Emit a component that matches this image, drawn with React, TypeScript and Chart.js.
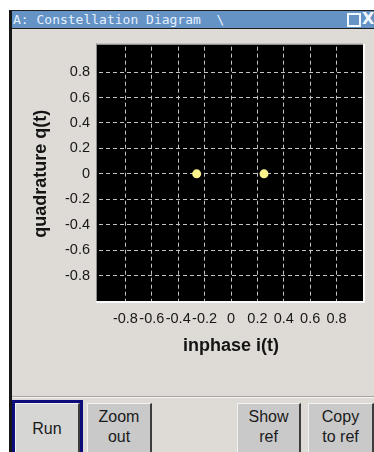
import React, { useEffect, useRef } from "react";
import { Chart, registerables } from "chart.js";

Chart.register(...registerables);

// ---- data ----
const inphaseValues = [-0.26, 0.25];
const quadratureValues = [0, 0];
const tickValues = [-0.8, -0.6, -0.4, -0.2, 0, 0.2, 0.4, 0.6, 0.8];
const axisMin = -1;
const axisMax = 1;
const xTitle = "inphase i(t)";
const yTitle = "quadrature q(t)";
const windowTitle = "A: Constellation Diagram  \\";
const runLabel = ["Run"];
const zoomLabel = ["Zoom", "out"];
const showRefLabel = ["Show", "ref"];
const copyRefLabel = ["Copy", "to ref"];

const fmt = (v: number) => {
  const r = Math.round(v * 10) / 10;
  return r === 0 ? "0" : r.toFixed(1);
};

const plotFrame = {
  id: "plotFrame",
  beforeDraw(chart: any) {
    const { ctx, chartArea: a } = chart;
    ctx.save();
    ctx.fillStyle = "#000000";
    ctx.fillRect(a.left - 2, a.top - 2, a.right - a.left + 2, a.bottom - a.top + 2);
    ctx.fillStyle = "#8c8c8c";
    ctx.fillRect(a.left - 3, a.top - 3, a.right - a.left + 4, 1);
    ctx.fillRect(a.left - 3, a.top - 3, 1, a.bottom - a.top + 4);
    ctx.fillStyle = "#fafafa";
    ctx.fillRect(a.left - 3, a.bottom, a.right - a.left + 5, 2);
    ctx.fillRect(a.right, a.top - 3, 2, a.bottom - a.top + 5);
    ctx.restore();
  },
};

const tickFont = { family: "'Liberation Sans', Arial, sans-serif", size: 14.5 };
const titleFont = { family: "'Liberation Sans', Arial, sans-serif", size: 18, weight: "bold" as const };

function ConstellationChart() {
  const ref = useRef<HTMLCanvasElement | null>(null);
  useEffect(() => {
    if (!ref.current) return;
    const points = inphaseValues.map((x, i) => ({ x, y: quadratureValues[i] }));
    const setTicks = (axis: any) => {
      axis.ticks = tickValues.map((v) => ({ value: v }));
    };
    const chart = new Chart(ref.current, {
      type: "scatter",
      data: {
        datasets: [
          {
            data: points,
            backgroundColor: "#faf38c",
            borderWidth: 0,
            pointRadius: 4.5,
            pointHoverRadius: 4.5,
          },
        ],
      },
      options: {
        animation: false,
        responsive: false,
        devicePixelRatio: 1,
        events: [],
        layout: { padding: { left: 14, top: 16, right: 11, bottom: 0 } },
        plugins: { legend: { display: false }, tooltip: { enabled: false } },
        scales: {
          x: {
            type: "linear",
            min: axisMin,
            max: axisMax,
            afterBuildTicks: setTicks,
            afterFit: (s: any) => {
              s.height = 60;
            },
            grid: { color: "#c4c4c4", lineWidth: 1, drawTicks: false },
            border: { display: false, dash: [4, 3] },
            ticks: {
              font: tickFont,
              color: "#181818",
              padding: 9,
              autoSkip: false,
              maxRotation: 0,
              minRotation: 0,
              callback: (v: any) => fmt(Number(v)),
            },
            title: { display: true, text: xTitle, font: titleFont, color: "#141414" },
          },
          y: {
            type: "linear",
            min: axisMin,
            max: axisMax,
            afterBuildTicks: setTicks,
            afterFit: (s: any) => {
              s.width = 73;
            },
            grid: { color: "#c4c4c4", lineWidth: 1, drawTicks: false },
            border: { display: false, dash: [4, 3] },
            ticks: {
              font: tickFont,
              color: "#181818",
              padding: 9,
              autoSkip: false,
              callback: (v: any) => fmt(Number(v)),
            },
            title: { display: true, text: yTitle, font: titleFont, color: "#141414" },
          },
        },
      },
      plugins: [plotFrame],
    });
    return () => chart.destroy();
  }, []);
  return (
    <canvas
      ref={ref}
      width={362}
      height={332}
      style={{ position: "absolute", left: 12, top: 29, width: 362, height: 332 }}
    />
  );
}

function Button({ lines, left, top, width, bg }: { lines: string[]; left: number; top: number; width: number; bg: string }) {
  return (
    <div
      style={{
        position: "absolute",
        left,
        top,
        width,
        height: 452 - top + 10,
        boxSizing: "border-box",
        background: bg,
        borderTop: "1px solid #f2f2f2",
        borderLeft: "1px solid #f2f2f2",
        borderRight: "2px solid #3c3c3c",
        borderBottom: "2px solid #3c3c3c",
        display: "flex",
        flexDirection: "column",
        alignItems: "center",
        paddingTop: lines.length > 1 ? 3 : 15,
        fontFamily: "'Liberation Sans', Arial, sans-serif",
        fontSize: 16,
        lineHeight: "20px",
        color: "#1a1a1a",
      }}
    >
      {lines.map((l, i) => (
        <span key={i}>{l}</span>
      ))}
    </div>
  );
}

export default function App() {
  return (
    <div style={{ position: "absolute", left: 0, top: 0, width: 374, height: 452, overflow: "hidden", background: "#ffffff" }}>
      {/* window body */}
      <div
        style={{
          position: "absolute",
          left: 9,
          top: 10,
          width: 365,
          height: 442,
          background: "#dedad5",
          borderLeft: "3px solid #161616",
          borderTop: "1px solid #202020",
          boxSizing: "border-box",
        }}
      />
      {/* title bar */}
      <div
        style={{
          position: "absolute",
          left: 12,
          top: 11,
          width: 362,
          height: 17,
          background: "#6593c6",
          borderBottom: "1px solid #1e1e1e",
          fontFamily: "'DejaVu Sans Mono', monospace",
          fontSize: 13,
          lineHeight: "17px",
          color: "#e4f1ff",
          whiteSpace: "pre",
          paddingLeft: 1,
        }}
      >
        {windowTitle}
      </div>
      <div
        style={{
          position: "absolute",
          left: 347,
          top: 13,
          width: 10,
          height: 10,
          border: "2px solid #f2f8ff",
        }}
      />
      <div
        style={{
          position: "absolute",
          left: 362,
          top: 10,
          fontFamily: "'DejaVu Sans', sans-serif",
          fontWeight: "bold",
          fontSize: 16,
          lineHeight: "18px",
          color: "#f2f8ff",
        }}
      >
        X
      </div>
      {/* separator above buttons */}
      <div style={{ position: "absolute", left: 12, top: 396, width: 362, height: 1, background: "#a8a5a0" }} />
      <div style={{ position: "absolute", left: 12, top: 397, width: 362, height: 1, background: "#f6f4f2" }} />
      <ConstellationChart />
      {/* buttons */}
      <div
        style={{
          position: "absolute",
          left: 12,
          top: 400,
          width: 71,
          height: 60,
          boxSizing: "border-box",
          border: "3px solid #0c0c7a",
          background: "#0c0c7a",
        }}
      />
      <Button lines={runLabel} left={15} top={403} width={65} bg="#d6d6d4" />
      <Button lines={zoomLabel} left={87} top={403} width={65} bg="#c9c9c9" />
      <Button lines={showRefLabel} left={237} top={403} width={64} bg="#c9c9c9" />
      <Button lines={copyRefLabel} left={308} top={403} width={66} bg="#c9c9c9" />
    </div>
  );
}
